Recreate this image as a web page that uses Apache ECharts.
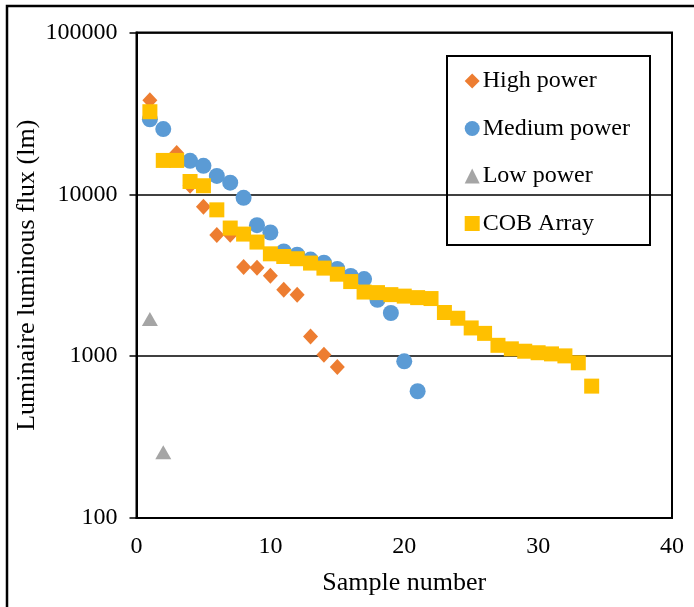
<!DOCTYPE html>
<html>
<head>
<meta charset="utf-8">
<script src="https://cdn.jsdelivr.net/npm/echarts@6/dist/echarts.min.js"></script>
<style>
html,body{margin:0;padding:0;background:#fff;}
#main{width:694px;height:607px;}
</style>
</head>
<body>
<div id="main"></div>
<script>
// ---- data ----
const highX = [1,3,4,5,6,7,8,9,10,11,12,13,14,15];
const highY = [38200,18000,11300,8380,5610,5620,3550,3520,3140,2570,2400,1325,1020,858];

const mediumX = [1,2,4,5,6,7,8,9,10,11,12,13,14,15,16,17,18,19,20,21];
const mediumY = [29100,25300,16100,15000,13000,11800,9510,6450,5810,4440,4240,3950,3780,3460,3130,2995,2230,1848,929,607];

const lowX = [1,2];
const lowY = [1698,255];

const cobX = [1,2,3,4,5,6,7,8,9,10,11,12,13,14,15,16,17,18,19,20,21,22,23,24,25,26,27,28,29,30,31,32,33,34];
const cobY = [32400,16200,16200,12000,11300,8020,6190,5680,5070,4290,4130,4000,3760,3500,3210,2890,2490,2470,2400,2350,2300,2270,1862,1715,1494,1383,1167,1110,1073,1050,1033,1004,910,653];

const seriesNames = ['High power','Medium power','Low power','COB Array'];
const xTitle = 'Sample number';
const yTitle = 'Luminaire luminous flux (lm)';

function pairs(xs, ys){ return xs.map((x,i)=>[x, ys[i]]); }

const font = '"Liberation Serif","Times New Roman",serif';
const chart = echarts.init(document.getElementById('main'), null, {renderer:'canvas'});

const option = {
  backgroundColor:'#fff',
  animation:false,
  textStyle:{fontFamily:font},
  grid:{left:136.5, right:22, top:32.5, bottom:89, show:true, borderColor:'#000', borderWidth:2,
        containLabel:false, outerBoundsMode:'none'},
  xAxis:{
    type:'value', min:0, max:40, interval:10,
    name:xTitle, nameLocation:'middle', nameGap:52, nameMoveOverlap:false,
    nameTextStyle:{fontFamily:font, fontSize:26, color:'#000'},
    axisLine:{show:true, lineStyle:{color:'#000', width:2}},
    axisTick:{show:false},
    axisLabel:{fontFamily:font, fontSize:24, color:'#000', margin:17},
    splitLine:{show:false}
  },
  yAxis:{
    type:'log', logBase:10, min:100, max:100000,
    name:yTitle, nameLocation:'middle', nameGap:96, nameMoveOverlap:false,
    nameTextStyle:{fontFamily:font, fontSize:26, color:'#000'},
    axisLine:{show:true, lineStyle:{color:'#000', width:2}},
    axisTick:{show:true, inside:false, length:7, lineStyle:{color:'#000', width:1.5}},
    axisLabel:{fontFamily:font, fontSize:24, color:'#000', margin:19,
      formatter:function(v){ return String(Math.round(v)); }},
    splitLine:{show:true, lineStyle:{color:'#000', width:1.5}},
    minorTick:{show:false}
  },
  legend:{
    orient:'vertical', left:464.7, top:69, padding:0,
    itemWidth:15, itemHeight:15, itemGap:23.5,
    textStyle:{fontFamily:font, fontSize:24, color:'#000', lineHeight:24, padding:[0,0,0,-2]},
    data:[
      {name:seriesNames[0], icon:'diamond'},
      {name:seriesNames[1], icon:'circle'},
      {name:seriesNames[2], icon:'triangle'},
      {name:seriesNames[3], icon:'rect'}
    ]
  },
  graphic:[
    {type:'rect', left:446, top:55, shape:{x:0,y:0,width:203,height:189}, style:{fill:'#fff', stroke:'#000', lineWidth:2}, z:-1, zlevel:0, silent:true},
    {type:'polyline', shape:{points:[[7,640],[7,6],[700,6]]}, style:{stroke:'#000', lineWidth:2.5, fill:null}, silent:true}
  ],
  series:[
    {name:seriesNames[0], type:'scatter', symbol:'diamond', symbolSize:[15,16], data:pairs(highX, highY), itemStyle:{color:'#ED7D31', opacity:1}, z:2},
    {name:seriesNames[1], type:'scatter', symbol:'circle', symbolSize:16, data:pairs(mediumX, mediumY), itemStyle:{color:'#5B9BD5', opacity:1}, z:3},
    {name:seriesNames[2], type:'scatter', symbol:'triangle', symbolSize:[16,14], data:pairs(lowX, lowY), itemStyle:{color:'#A5A5A5', opacity:1}, z:4},
    {name:seriesNames[3], type:'scatter', symbol:'rect', symbolSize:15, data:pairs(cobX, cobY), itemStyle:{color:'#FFC000', opacity:1}, z:5}
  ]
};
chart.setOption(option);
</script>
</body>
</html>
